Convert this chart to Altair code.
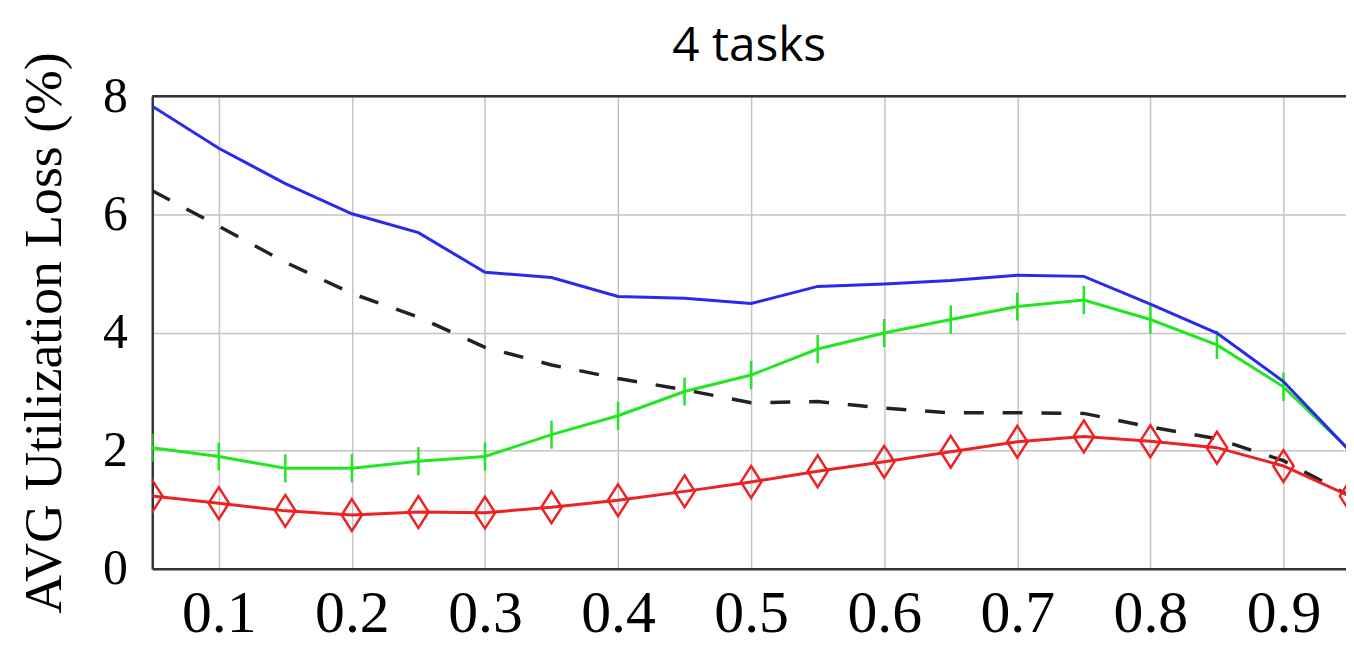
import altair as alt
import pandas as pd

# ---- data ----
x_vals = [0.05, 0.10, 0.15, 0.20, 0.25, 0.30, 0.35, 0.40, 0.45, 0.50,
          0.55, 0.60, 0.65, 0.70, 0.75, 0.80, 0.85, 0.90, 0.95]
blue_vals = [7.83, 7.12, 6.52, 6.01, 5.69, 5.02, 4.93, 4.61, 4.58, 4.49,
             4.78, 4.82, 4.88, 4.97, 4.95, 4.48, 3.99, 3.17, 1.99]
green_vals = [2.05, 1.90, 1.70, 1.70, 1.82, 1.90, 2.27, 2.59, 3.00, 3.28,
              3.72, 3.99, 4.22, 4.44, 4.55, 4.22, 3.79, 3.08, 2.00]
dashed_vals = [6.40, 5.80, 5.19, 4.66, 4.26, 3.75, 3.45, 3.22, 3.03, 2.81,
               2.83, 2.72, 2.64, 2.64, 2.63, 2.40, 2.20, 1.83, 1.23]
red_vals = [1.23, 1.11, 0.98, 0.91, 0.96, 0.95, 1.04, 1.16, 1.31, 1.47,
            1.65, 1.81, 1.98, 2.15, 2.24, 2.16, 2.05, 1.74, 1.23]
x_ticks = [0.1, 0.2, 0.3, 0.4, 0.5, 0.6, 0.7, 0.8, 0.9]
y_ticks = [0, 2, 4, 6, 8]
chart_title = "4 tasks"
y_title = "AVG Utilization Loss (%)"

rows = []
for name, vals in [("blue", blue_vals), ("green", green_vals),
                   ("dashed", dashed_vals), ("red", red_vals)]:
    for xv, v in zip(x_vals, vals):
        rows.append({"x": xv, "v": v, "s": name})
df = pd.DataFrame(rows)

W, H = 1200, 475
SERIF = "Liberation Serif"
FRAME = "#333333"

x_scale = alt.Scale(domain=[0.05, 0.947], nice=False, zero=False)
y_scale = alt.Scale(domain=[0, 8], nice=False)

x_axis = alt.Axis(values=x_ticks, format=".1f", title=None,
                  labelFont=SERIF, labelFontSize=60, labelColor="black",
                  labelPadding=16, ticks=False, labelFlush=False,
                  domainColor=FRAME, domainWidth=2.5,
                  gridColor="#c4c4c4", gridWidth=1.5)
y_axis = alt.Axis(values=y_ticks, format="d", title=y_title,
                  labelFont=SERIF, labelFontSize=50, labelColor="black",
                  labelPadding=25, ticks=False,
                  domainColor=FRAME, domainWidth=2.5,
                  gridColor="#c4c4c4", gridWidth=1.5,
                  titleFont=SERIF, titleFontSize=54, titleFontWeight="normal",
                  titleColor="black", titleAngle=270, titleAlign="center",
                  titleBaseline="middle", titleX=-108, titleY=H / 2)

base = alt.Chart(df)

def series(name):
    return base.transform_filter(alt.datum.s == name)

X = alt.X("x:Q", scale=x_scale, axis=x_axis)
Y = alt.Y("v:Q", scale=y_scale, axis=y_axis)

green_line = series("green").mark_line(color="#22e622", strokeWidth=3, clip=True).encode(x=X, y=Y)
green_marks = series("green").mark_point(shape="M0,-1L0,1", size=800, filled=False,
                                         color="#22e622", strokeWidth=2.5, opacity=1,
                                         clip=True).encode(x=X, y=Y)
blue_line = series("blue").mark_line(color="#2a2aee", strokeWidth=3, clip=True).encode(x=X, y=Y)
dashed_line = series("dashed").mark_line(color="#222222", strokeWidth=3.5,
                                         strokeDash=[20, 19], clip=True).encode(x=X, y=Y)
red_line = series("red").mark_line(color="#ee2222", strokeWidth=3, clip=True).encode(x=X, y=Y)
red_marks = series("red").mark_point(shape="M0,-1L0.64,0L0,1L-0.64,0Z", size=1024,
                                     filled=False, color="#ee2222", strokeWidth=2.5,
                                     opacity=1, clip=True).encode(x=X, y=Y)

# top frame line of the plot box
top_frame = alt.Chart(pd.DataFrame({"k": [0]})).mark_rule(
    color=FRAME, strokeWidth=2.5
).encode(x=alt.value(0), x2=alt.value(W), y=alt.value(0))

title_df = pd.DataFrame({"t": [chart_title]})
title_mark = alt.Chart(title_df).mark_text(
    font="Open Sans", fontSize=48, color="black", align="center",
    baseline="alphabetic", clip=False
).encode(text="t:N", x=alt.value(W / 2), y=alt.value(-35))

chart = alt.layer(
    green_line, green_marks, blue_line, dashed_line, red_line, red_marks,
    top_frame, title_mark
).properties(
    width=W, height=H,
    autosize=alt.AutoSizeParams(type="none"),
    padding={"left": 145, "top": 87, "right": 0, "bottom": 80},
).configure_view(stroke=None)

chart.save("out.html", embed_options={"renderer": "svg", "actions": False})
